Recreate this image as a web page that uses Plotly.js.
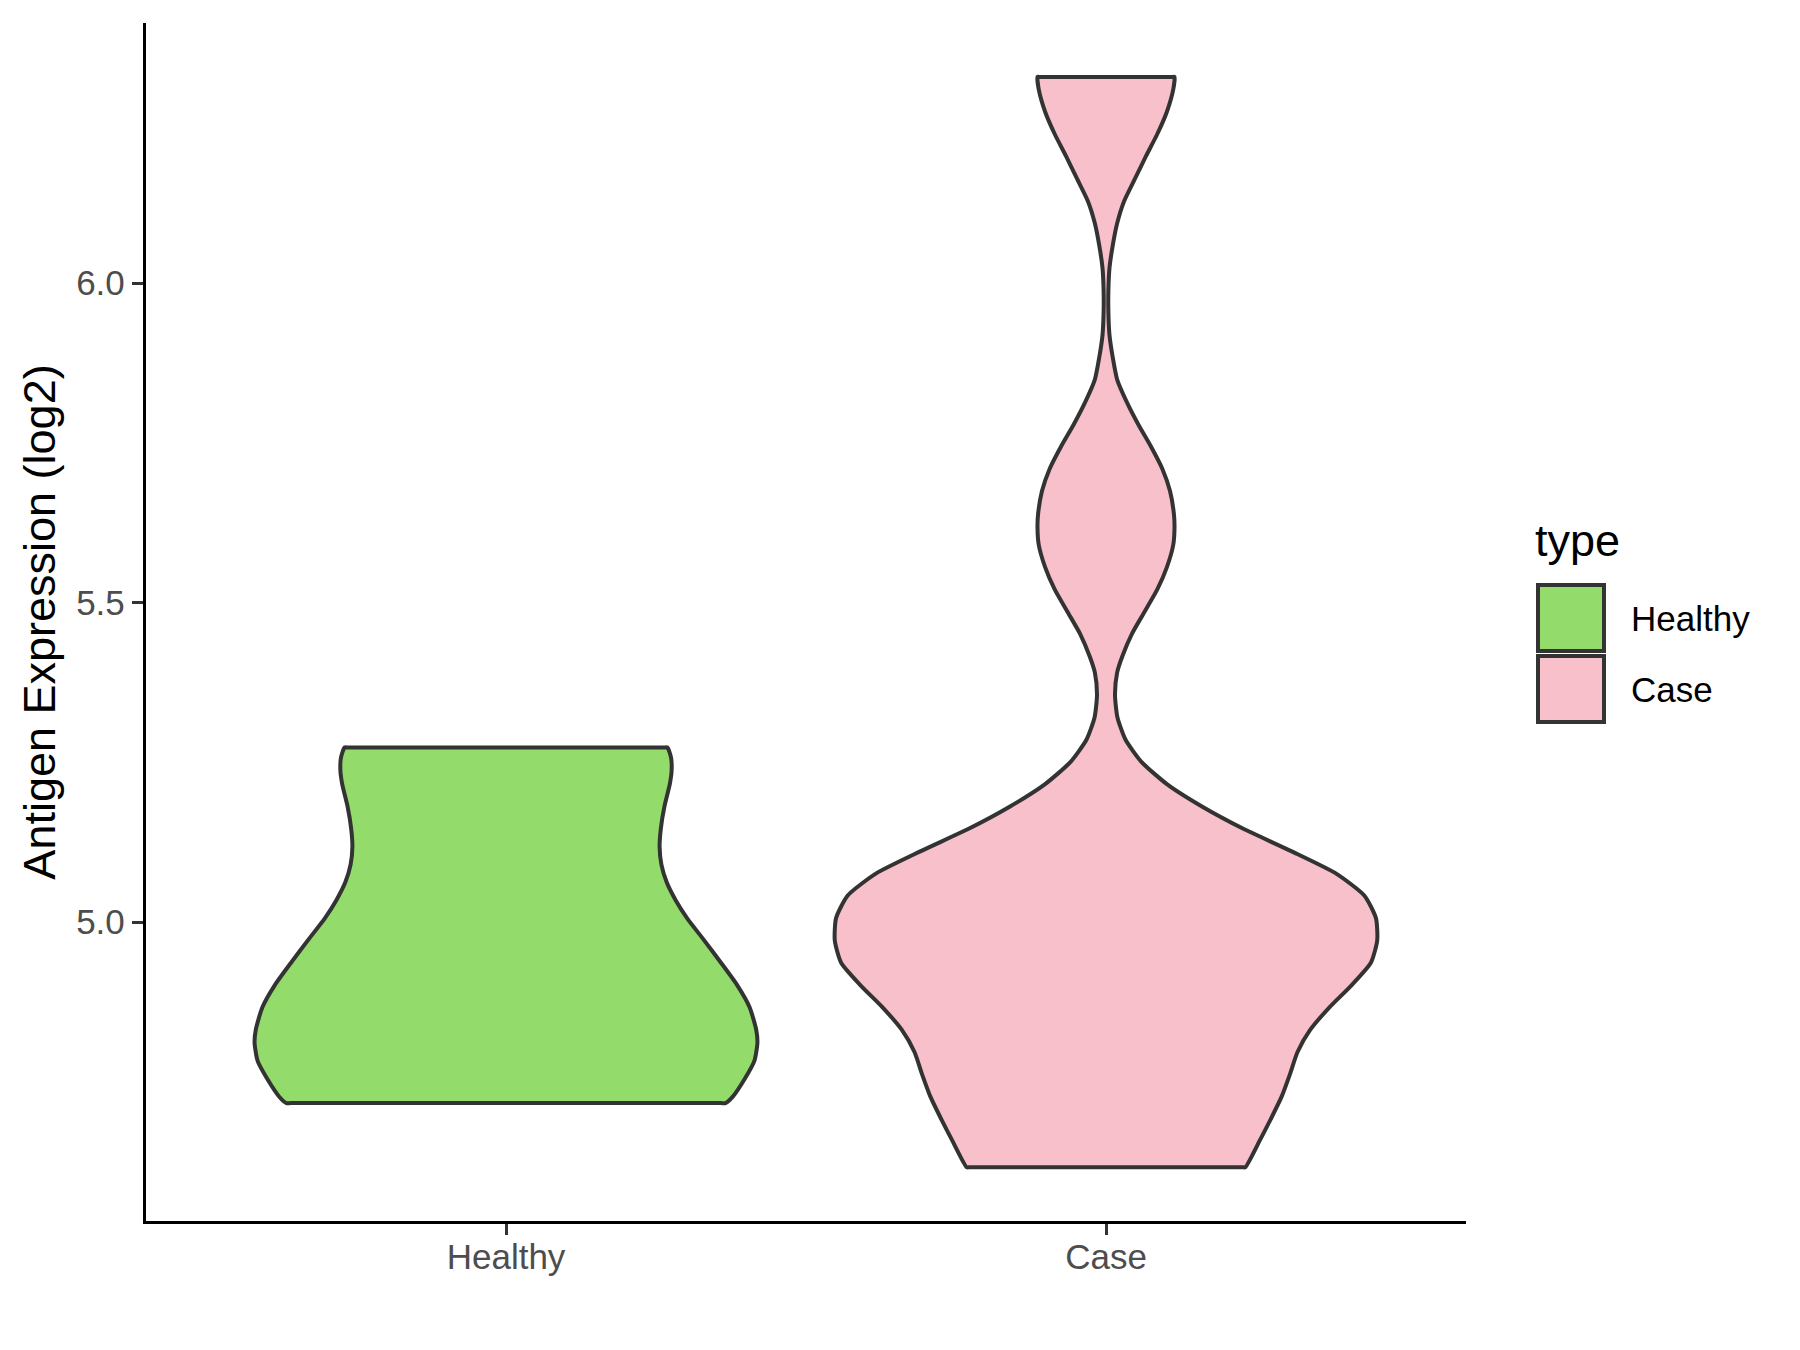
<!DOCTYPE html>
<html>
<head>
<meta charset="utf-8">
<script src="https://cdn.plot.ly/plotly-3.0.1.min.js"></script>
<style>html,body{margin:0;padding:0;background:#fff;}#chart{width:1800px;height:1350px;}</style>
</head>
<body>
<div id="chart"></div>
<script>
// ---- data ----
const categories = ['Healthy', 'Case'];
const fillColors = ['#93DC6B', '#F8C0CB'];

// Healthy violin: y values (log2 expression) and half-width of the density outline (x units)
const healthyY = [5.2734, 5.258, 5.237, 5.216, 5.181, 5.146, 5.118, 5.090, 5.062, 5.034, 5.006,
                  4.972, 4.937, 4.902, 4.867, 4.832, 4.811, 4.783, 4.755, 4.727, 4.717];
const healthyHalf = [0.269, 0.275, 0.276, 0.273, 0.264, 0.258, 0.256, 0.259, 0.268, 0.283, 0.302,
                     0.330, 0.358, 0.385, 0.406, 0.417, 0.419, 0.414, 0.398, 0.378, 0.366];

// Case violin
const caseY = [6.3227, 6.3031, 6.2682, 6.2333, 6.1983, 6.1634, 6.1285, 6.0936, 6.0587, 6.0236,
               5.9887, 5.9538, 5.9189, 5.8840, 5.8490, 5.8141, 5.7792, 5.7443, 5.7092, 5.6743,
               5.6394, 5.6185, 5.5906, 5.5556, 5.5207, 5.4858, 5.4509, 5.4158, 5.3908, 5.3559,
               5.3208, 5.2859, 5.2510, 5.2161, 5.1811, 5.1462, 5.1113, 5.0764, 5.0415, 5.0064,
               4.9715, 4.9366, 4.9017, 4.8668, 4.8318, 4.7969, 4.7620, 4.7271, 4.6920, 4.6571, 4.6166];
const caseHalf = [0.1142, 0.1121, 0.1015, 0.0855, 0.0664, 0.0483, 0.0303, 0.0186, 0.0112, 0.0058,
                  0.0040, 0.0040, 0.0058, 0.0112, 0.0186, 0.0345, 0.0536, 0.0749, 0.0940, 0.1068,
                  0.1131, 0.1142, 0.1121, 0.1015, 0.0855, 0.0643, 0.0430, 0.0271, 0.0186, 0.0150,
                  0.0190, 0.0324, 0.0590, 0.1015, 0.1599, 0.2289, 0.3086, 0.3830, 0.4308, 0.4499,
                  0.4520, 0.4414, 0.4095, 0.3724, 0.3405, 0.3192, 0.3065, 0.2927, 0.2746, 0.2555, 0.2321];

const yTicks = [5.0, 5.5, 6.0];
const yTickText = ['5.0', '5.5', '6.0'];

// ---- build violin outlines (flat top/bottom edges kept straight) ----
const edgeFracs = [0.01, 0.03, 0.1, 0.3, 0.5, 0.7, 0.9, 0.97, 0.99];
function outline(center, ys, halves) {
  const xs = [], yy = [];
  const n = ys.length;
  for (let i = 0; i < n; i++) { xs.push(center - halves[i]); yy.push(ys[i]); }
  // bottom edge
  edgeFracs.forEach(f => { xs.push(center - halves[n - 1] + 2 * halves[n - 1] * f); yy.push(ys[n - 1]); });
  for (let i = n - 1; i >= 0; i--) { xs.push(center + halves[i]); yy.push(ys[i]); }
  // top edge
  edgeFracs.forEach(f => { xs.push(center + halves[0] - 2 * halves[0] * f); yy.push(ys[0]); });
  xs.push(xs[0]); yy.push(yy[0]);
  return {x: xs, y: yy};
}
const series = [[healthyY, healthyHalf], [caseY, caseHalf]];
const traces = series.map((s, i) => {
  const o = outline(i + 1, s[0], s[1]);
  return {
    type: 'scatter', mode: 'lines', x: o.x, y: o.y, fill: 'toself',
    fillcolor: fillColors[i], name: categories[i], showlegend: false,
    line: {color: '#333333', width: 4, shape: 'spline', smoothing: 0.6},
    hoverinfo: 'name'
  };
});

// ---- layout ----
const L = 146, R = 1466, T = 23, B = 1221;
const px2x = px => (px - L) / (R - L);
const py2y = py => (B - py) / (B - T);
const FONT = 'Liberation Sans, Arial, Helvetica, sans-serif';

const shapes = [], annotations = [];
const keyTop = [585, 656];
categories.forEach((c, i) => {
  shapes.push({type: 'rect', xref: 'paper', yref: 'paper',
    x0: px2x(1538), x1: px2x(1604), y0: py2y(keyTop[i] + 66), y1: py2y(keyTop[i]),
    fillcolor: fillColors[i], line: {color: '#333333', width: 4}});
  annotations.push({xref: 'paper', yref: 'paper', x: px2x(1629), y: py2y(keyTop[i] + 33),
    xanchor: 'left', yanchor: 'middle', showarrow: false, text: c,
    font: {family: FONT, size: 35, color: '#000000'}});
});
annotations.push({xref: 'paper', yref: 'paper', x: px2x(1533), y: py2y(540),
  xanchor: 'left', yanchor: 'middle', showarrow: false, text: 'type',
  font: {family: FONT, size: 45, color: '#000000'}});

const axisCommon = {
  showgrid: false, zeroline: false, showline: true, linecolor: '#000000', linewidth: 3.2,
  ticks: 'outside', ticklen: 11, tickwidth: 3, tickcolor: '#333333',
  tickfont: {family: FONT, size: 35, color: '#4D4D4D'}, fixedrange: true
};

const layout = {
  width: 1800, height: 1350,
  margin: {l: L, r: 1800 - R, t: T, b: 1350 - B, pad: 0},
  paper_bgcolor: '#ffffff', plot_bgcolor: '#ffffff',
  font: {family: FONT},
  showlegend: false,
  xaxis: Object.assign({}, axisCommon, {
    range: [0.4, 2.6], tickmode: 'array', tickvals: [1, 2], ticktext: categories,
    ticklabelstandoff: -8
  }),
  yaxis: Object.assign({}, axisCommon, {
    range: [4.5325, 6.407], tickmode: 'array', tickvals: yTicks, ticktext: yTickText,
    title: {text: 'Antigen Expression (log2)', font: {family: FONT, size: 45, color: '#000000'}, standoff: 7}
  }),
  shapes: shapes, annotations: annotations
};

Plotly.newPlot('chart', traces, layout, {displayModeBar: false, staticPlot: true});
</script>
</body>
</html>
